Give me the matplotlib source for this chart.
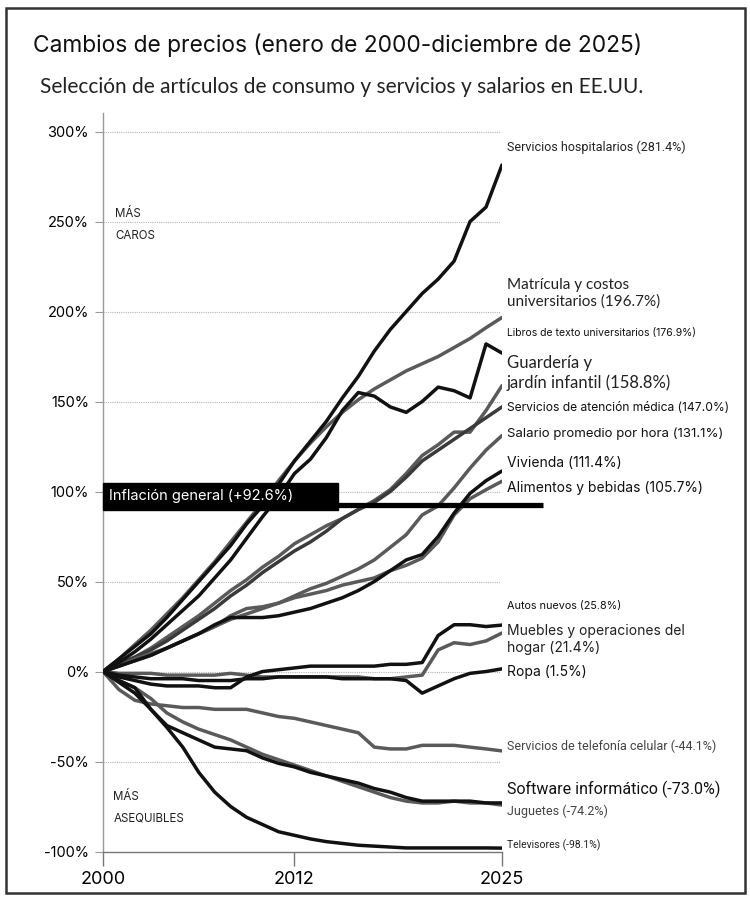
import numpy as np
import matplotlib.pyplot as plt
from matplotlib.patches import Rectangle

years = np.arange(2000, 2026)

# percent change since Jan 2000, one value per year
hospital = [0, 7, 14, 21, 30, 40, 50, 60, 70, 82, 92, 104, 117, 128, 139, 152, 164, 178, 190, 200, 210, 218, 228, 250, 258, 281.4]
matricula = [0, 7, 15, 23, 32, 41, 51, 61, 72, 83, 94, 106, 117, 127, 136, 144, 151, 157, 162, 167, 171, 175, 180, 185, 191, 196.7]
libros = [0, 5, 11, 18, 26, 34, 42, 52, 62, 74, 86, 97, 110, 118, 130, 145, 155, 153, 147, 144, 150, 158, 156, 152, 182, 176.9]
guarderia = [0, 4, 8, 13, 19, 25, 31, 38, 45, 51, 58, 64, 71, 76, 81, 85, 90, 95, 101, 110, 120, 126, 133, 133, 145, 158.8]
medica = [0, 4, 8, 12, 17, 23, 29, 35, 42, 48, 55, 61, 67, 72, 78, 85, 90, 94, 100, 108, 117, 123, 129, 135, 141, 147.0]
salario = [0, 3, 7, 10, 13, 17, 21, 25, 29, 32, 35, 38, 42, 46, 49, 53, 57, 62, 69, 76, 87, 92, 102, 113, 123, 131.1]
vivienda = [0, 3, 6, 9, 13, 17, 21, 26, 30, 30, 30, 31, 33, 35, 38, 41, 45, 50, 56, 62, 65, 75, 88, 99, 106, 111.4]
alimentos = [0, 3, 6, 9, 13, 17, 21, 25, 31, 35, 36, 38, 41, 43, 45, 48, 50, 52, 56, 59, 63, 72, 87, 96, 101, 105.7]
autos = [0, -3, -5, -7, -8, -8, -8, -9, -9, -3, 0, 1, 2, 3, 3, 3, 3, 3, 4, 4, 5, 20, 26, 26, 25, 25.8]
muebles = [0, -1, -1, -1, -2, -2, -2, -2, -1, -2, -3, -3, -3, -3, -3, -3, -3, -4, -4, -3, -2, 12, 16, 15, 17, 21.4]
ropa = [0, -2, -3, -4, -4, -4, -5, -5, -5, -4, -4, -3, -3, -3, -3, -4, -4, -4, -4, -5, -12, -8, -4, -1, 0, 1.5]
telefonia = [0, -10, -16, -18, -19, -20, -20, -21, -21, -21, -23, -25, -26, -28, -30, -32, -34, -42, -43, -43, -41, -41, -41, -42, -43, -44.1]
software = [0, -5, -9, -21, -30, -34, -38, -42, -43, -44, -48, -51, -53, -56, -58, -60, -62, -65, -67, -70, -72, -72, -72, -72, -73, -73.0]
juguetes = [0, -5, -9, -15, -23, -28, -32, -35, -38, -42, -46, -49, -52, -55, -58, -61, -64, -67, -70, -72, -73, -73, -72, -73, -73, -74.2]
televisores = [0, -6, -12, -21, -31, -42, -56, -67, -75, -81, -85, -89, -91, -93, -94.5, -95.5, -96.5, -97, -97.5, -98, -98, -98, -98, -98, -98, -98.1]
inflacion = 92.6

BLACK = '#111111'
GRAY = '#5a5a5a'

series = [
    (matricula, GRAY), (guarderia, GRAY), (medica, '#3a3a3a'), (salario, GRAY),
    (alimentos, GRAY), (muebles, GRAY), (telefonia, GRAY), (juguetes, GRAY),
    (hospital, BLACK), (libros, BLACK), (vivienda, BLACK), (autos, BLACK),
    (ropa, BLACK), (software, BLACK), (televisores, BLACK),
]

narrow = ['Liberation Sans Narrow', 'Roboto', 'DejaVu Sans']
sans = ['Inter', 'DejaVu Sans']
soft = ['Lato', 'DejaVu Sans']

# text, y position (%), font, size, color
labels = [
    ('Servicios hospitalarios (281.4%)', 291, narrow, 9, '#222222'),
    ('Matrícula y costos\nuniversitarios (196.7%)', 210, soft, 11, '#222222'),
    ('Libros de texto universitarios (176.9%)', 188, sans, 7.5, '#111111'),
    ('Guardería y\njardín infantil (158.8%)', 166, soft, 12, '#222222'),
    ('Servicios de atención médica (147.0%)', 146.5, sans, 8.7, '#111111'),
    ('Salario promedio por hora (131.1%)', 132, sans, 9.5, '#111111'),
    ('Vivienda (111.4%)', 116, sans, 10, '#111111'),
    ('Alimentos y bebidas (105.7%)', 102, sans, 10, '#111111'),
    ('Autos nuevos (25.8%)', 36.6, sans, 7.8, '#111111'),
    ('Muebles y operaciones del\nhogar (21.4%)', 18, sans, 10, '#222222'),
    ('Ropa (1.5%)', -0.5, sans, 10, '#111111'),
    ('Servicios de telefonía celular (-44.1%)', -41.5, narrow, 9, '#444444'),
    ('Software informático (-73.0%)', -65.4, narrow, 11.5, '#111111'),
    ('Juguetes (-74.2%)', -77.7, narrow, 9, '#444444'),
    ('Televisores (-98.1%)', -96.6, narrow, 7.5, '#222222'),
]

fig = plt.figure(figsize=(7.5, 9.01), dpi=100)
ax = fig.add_axes([0.1373, 0.0549, 0.5320, 0.8197])

for vals, col in series:
    ax.plot(years, vals, color=col, lw=2.5, solid_joinstyle='round', solid_capstyle='round', zorder=3)

# dotted gridlines
for g in [300, 250, 200, 150, 100, 50, 0, -50]:
    ax.plot([2000, 2024.9], [g, g], color='#b5b5b5', lw=0.8, ls=(0, (1, 1)), zorder=1)

# general inflation bar + label
ax.plot([2000, 2027.6], [inflacion, inflacion], color='black', lw=3.8, solid_capstyle='butt',
        clip_on=False, zorder=5)
ax.add_patch(Rectangle((2000, inflacion - 2.6), 14.7, 15, color='black', zorder=5, clip_on=False))
ax.text(2000.4, inflacion + 5, 'Inflación general (+92.6%)', color='white', fontsize=10.5,
        family=sans, va='center', ha='left', zorder=6)

for txt, y, fam, size, col in labels:
    ax.text(2025.3, y, txt, family=fam, fontsize=size, color=col, va='center', ha='left',
            linespacing=1.25, clip_on=False)

ax.text(2000.75, 254, 'MÁS', family=sans, fontsize=8.3, color='#222222', va='center')
ax.text(2000.8, 242, 'CAROS', family=sans, fontsize=8.3, color='#222222', va='center')
ax.text(2000.65, -69.5, 'MÁS', family=sans, fontsize=8.3, color='#222222', va='center')
ax.text(2000.65, -81.5, 'ASEQUIBLES', family=sans, fontsize=8.3, color='#222222', va='center')

ax.set_xlim(2000, 2025)
ax.set_ylim(-100, 310.3)
ax.set_xticks([2000, 2012, 2025])
ax.set_xticklabels(['2000', '2012', '2025'], family=sans, fontsize=13)
ax.set_yticks([300, 250, 200, 150, 100, 50, 0, -50, -100])
ax.set_yticklabels(['300%', '250%', '200%', '150%', '100%', '50%', '0%', '-50%', '-100%'],
                   family=sans, fontsize=10.5)
ax.tick_params(axis='y', length=6, width=0.8, color='#999999', pad=4)
ax.tick_params(axis='x', length=10, width=1, color='#777777', pad=4)
for s in ['top', 'right']:
    ax.spines[s].set_visible(False)
ax.spines['left'].set_color('#999999')
ax.spines['left'].set_linewidth(1)
ax.spines['bottom'].set_color('#777777')
ax.spines['bottom'].set_linewidth(1)

fig.text(0.044, 0.950, 'Cambios de precios (enero de 2000-diciembre de 2025)', family=sans,
         fontsize=16.4, color='#111111', va='center', ha='left')
fig.text(0.054, 0.903, 'Selección de artículos de consumo y servicios y salarios en EE.UU.',
         family=soft, fontsize=15.0, color='#222222', va='center', ha='left')

fig.patches.append(Rectangle((0.008, 0.009), 0.985, 0.982, transform=fig.transFigure,
                             fill=False, edgecolor='#333333', lw=1.8))

fig.savefig('out.png', dpi=100)
